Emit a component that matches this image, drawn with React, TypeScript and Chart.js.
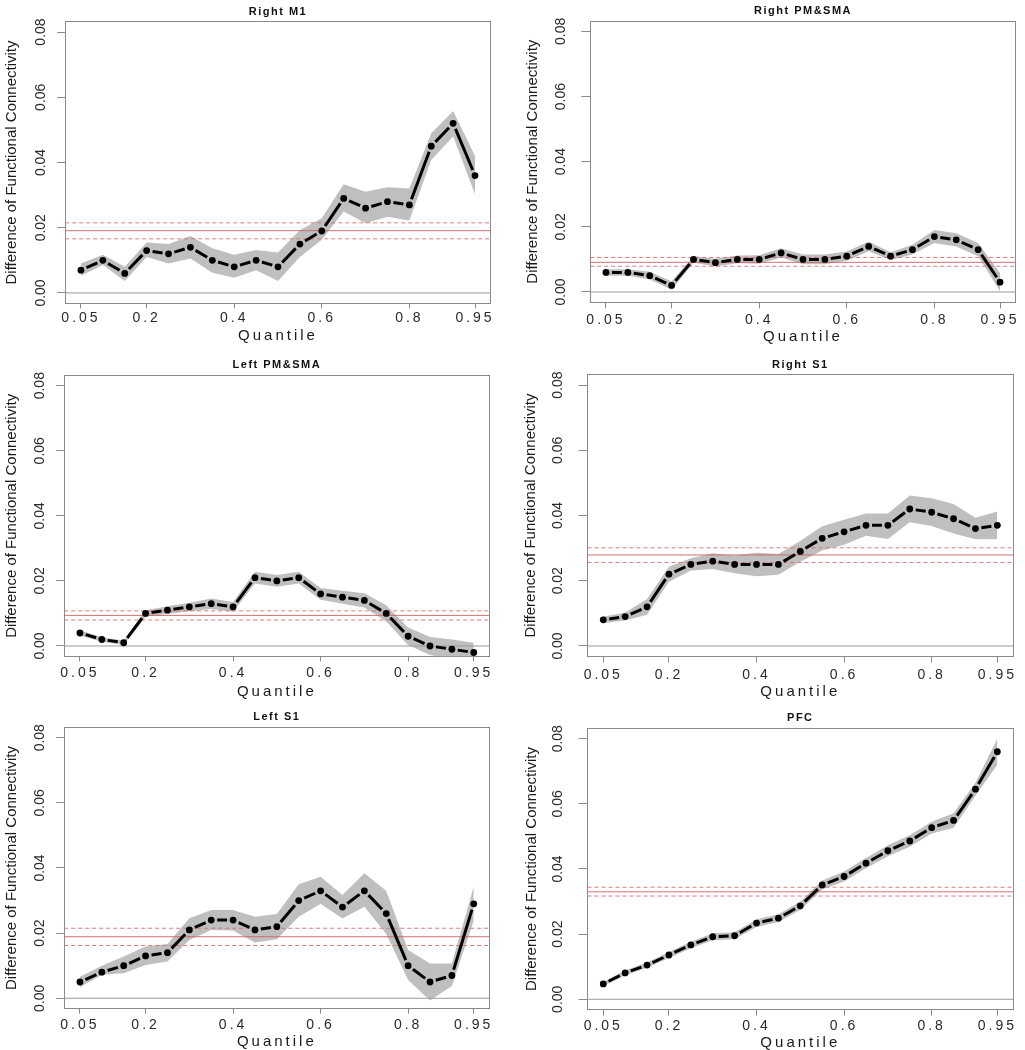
import React, { useEffect, useRef } from 'react';
import { Chart, registerables, LinearScale } from 'chart.js';

// ---------------- data ----------------
const QUANTILES = [0.05, 0.1, 0.15, 0.2, 0.25, 0.3, 0.35, 0.4, 0.45, 0.5, 0.55, 0.6, 0.65, 0.7, 0.75, 0.8, 0.85, 0.9, 0.95];
const X_TICKS = [0.05, 0.2, 0.4, 0.6, 0.8, 0.95];
const X_TICK_LABELS = ['0.05', '0.2', '0.4', '0.6', '0.8', '0.95'];
const Y_TICKS = [0, 0.02, 0.04, 0.06, 0.08];
const Y_TICK_LABELS = ['0.00', '0.02', '0.04', '0.06', '0.08'];
const Y_LIMITS = [0, 0.08];
const X_LABEL = 'Quantile';
const Y_LABEL = 'Difference of Functional Connectivity';
const TITLES = ['Right M1', 'Right PM&SMA', 'Left PM&SMA', 'Right S1', 'Left S1', 'PFC'];

// reference lines: [mean, lower bound, upper bound]
const RIGHT_M1_EST = [0.007, 0.010, 0.006, 0.013, 0.012, 0.014, 0.010, 0.008, 0.010, 0.008, 0.015, 0.019, 0.029, 0.026, 0.028, 0.027, 0.045, 0.052, 0.036];
const RIGHT_M1_UPPER = [0.009, 0.0117, 0.008, 0.0155, 0.015, 0.0175, 0.0137, 0.0117, 0.0132, 0.0124, 0.0193, 0.0229, 0.0333, 0.031, 0.0324, 0.032, 0.049, 0.0558, 0.042];
const RIGHT_M1_LOWER = [0.0053, 0.0086, 0.0037, 0.011, 0.009, 0.0106, 0.0062, 0.0047, 0.007, 0.0037, 0.011, 0.0163, 0.025, 0.0214, 0.0234, 0.0222, 0.0408, 0.048, 0.0303];
const RIGHT_M1_REF = [0.0191, 0.0166, 0.0215];

const RIGHT_PMSMA_EST = [0.006, 0.006, 0.005, 0.002, 0.010, 0.009, 0.010, 0.010, 0.012, 0.010, 0.010, 0.011, 0.014, 0.011, 0.013, 0.017, 0.016, 0.013, 0.003];
const RIGHT_PMSMA_UPPER = [0.007, 0.007, 0.0062, 0.0033, 0.011, 0.0102, 0.0112, 0.0113, 0.0134, 0.0115, 0.0115, 0.0124, 0.0155, 0.0122, 0.0145, 0.019, 0.018, 0.015, 0.0058];
const RIGHT_PMSMA_LOWER = [0.005, 0.005, 0.0038, 0.0007, 0.009, 0.0078, 0.0088, 0.0087, 0.0106, 0.0085, 0.0085, 0.0096, 0.0125, 0.0098, 0.0115, 0.015, 0.014, 0.011, 0.0002];
const RIGHT_PMSMA_REF = [0.0091, 0.0079, 0.0106];

const LEFT_PMSMA_EST = [0.004, 0.002, 0.001, 0.010, 0.011, 0.012, 0.013, 0.012, 0.021, 0.020, 0.021, 0.016, 0.015, 0.014, 0.010, 0.003, 0.000, -0.001, -0.002];
const LEFT_PMSMA_UPPER = [0.0048, 0.0027, 0.0017, 0.011, 0.0122, 0.0133, 0.0146, 0.0135, 0.0228, 0.0218, 0.0228, 0.0178, 0.017, 0.0162, 0.0125, 0.0057, 0.0028, 0.002, 0.001];
const LEFT_PMSMA_LOWER = [0.0032, 0.0013, 0.0003, 0.009, 0.0098, 0.0107, 0.0114, 0.0105, 0.0192, 0.0182, 0.0192, 0.0142, 0.013, 0.0118, 0.0075, 0.0003, -0.0028, -0.004, -0.005];
const LEFT_PMSMA_REF = [0.0094, 0.008, 0.0108];

const RIGHT_S1_EST = [0.008, 0.009, 0.012, 0.022, 0.025, 0.026, 0.025, 0.025, 0.025, 0.029, 0.033, 0.035, 0.037, 0.037, 0.042, 0.041, 0.039, 0.036, 0.037];
const RIGHT_S1_UPPER = [0.009, 0.0102, 0.0144, 0.0243, 0.0269, 0.0284, 0.0277, 0.0286, 0.0282, 0.0322, 0.0367, 0.0387, 0.0406, 0.0406, 0.0461, 0.0453, 0.0435, 0.0393, 0.0412];
const RIGHT_S1_LOWER = [0.007, 0.0078, 0.0096, 0.0197, 0.0231, 0.0236, 0.0223, 0.0214, 0.0218, 0.0258, 0.0293, 0.031, 0.0338, 0.0328, 0.0379, 0.0368, 0.0345, 0.0327, 0.0327];
const RIGHT_S1_REF = [0.0279, 0.0256, 0.0301];

const LEFT_S1_EST = [0.005, 0.008, 0.010, 0.013, 0.014, 0.021, 0.024, 0.024, 0.021, 0.022, 0.030, 0.033, 0.028, 0.033, 0.026, 0.010, 0.005, 0.007, 0.029];
const LEFT_S1_UPPER = [0.0066, 0.010, 0.0128, 0.0159, 0.0167, 0.0246, 0.0271, 0.0271, 0.025, 0.0259, 0.035, 0.0373, 0.0317, 0.0384, 0.033, 0.0148, 0.0107, 0.0107, 0.0343];
const LEFT_S1_LOWER = [0.0034, 0.0072, 0.0077, 0.0102, 0.0113, 0.0179, 0.021, 0.0208, 0.0171, 0.0181, 0.025, 0.029, 0.0245, 0.0281, 0.0197, 0.0056, -0.0007, 0.0038, 0.0238];
const LEFT_S1_REF = [0.0189, 0.0162, 0.0215];

const PFC_EST = [0.0047, 0.0081, 0.0105, 0.0136, 0.0167, 0.0192, 0.0195, 0.0234, 0.0249, 0.0287, 0.0351, 0.0377, 0.0418, 0.0456, 0.0486, 0.0527, 0.0549, 0.0645, 0.076];
const PFC_UPPER = [0.0053, 0.0088, 0.0113, 0.0145, 0.0177, 0.0203, 0.0206, 0.0246, 0.0261, 0.030, 0.0365, 0.0392, 0.0434, 0.0473, 0.0504, 0.0545, 0.0571, 0.0665, 0.080];
const PFC_LOWER = [0.0041, 0.0074, 0.0097, 0.0127, 0.0157, 0.0181, 0.0184, 0.0222, 0.0237, 0.0274, 0.0337, 0.0362, 0.0402, 0.0439, 0.0468, 0.0509, 0.0527, 0.0625, 0.072];
const PFC_REF = [0.033, 0.0317, 0.0344];

const PANEL_SERIES = [
  { title: TITLES[0], est: RIGHT_M1_EST, upper: RIGHT_M1_UPPER, lower: RIGHT_M1_LOWER, ref: RIGHT_M1_REF },
  { title: TITLES[1], est: RIGHT_PMSMA_EST, upper: RIGHT_PMSMA_UPPER, lower: RIGHT_PMSMA_LOWER, ref: RIGHT_PMSMA_REF },
  { title: TITLES[2], est: LEFT_PMSMA_EST, upper: LEFT_PMSMA_UPPER, lower: LEFT_PMSMA_LOWER, ref: LEFT_PMSMA_REF },
  { title: TITLES[3], est: RIGHT_S1_EST, upper: RIGHT_S1_UPPER, lower: RIGHT_S1_LOWER, ref: RIGHT_S1_REF },
  { title: TITLES[4], est: LEFT_S1_EST, upper: LEFT_S1_UPPER, lower: LEFT_S1_LOWER, ref: LEFT_S1_REF },
  { title: TITLES[5], est: PFC_EST, upper: PFC_UPPER, lower: PFC_LOWER, ref: PFC_REF },
];

// ---------------- layout & style ----------------
const PANEL_LAYOUT = [
  { x0: 0, y0: 0, w: 512, h: 350, left: 65.2, right: 490.8, top: 21.6, bottom: 303.4, yTickLen: 8, yTickPad: 2.4, yTitlePad: 3, xTickLen: 5, xTickPad: 1.6, xTitlePad: 6.5 },
  { x0: 512, y0: 0, w: 513, h: 350, left: 78.2, right: 503.8, top: 21.0, bottom: 302.4, yTickLen: 9, yTickPad: 6.9, yTitlePad: 12, xTickLen: 6, xTickPad: 2.9, xTitlePad: 5.8 },
  { x0: 0, y0: 350, w: 512, h: 350, left: 64.2, right: 489.5, top: 25.3, bottom: 306.4, yTickLen: 8, yTickPad: 2.4, yTitlePad: 3, xTickLen: 5, xTickPad: 3.6, xTitlePad: 0.8 },
  { x0: 512, y0: 350, w: 513, h: 350, left: 75.5, right: 501.1, top: 24.6, bottom: 306.4, yTickLen: 9, yTickPad: 6.9, yTitlePad: 10, xTickLen: 6, xTickPad: 3.9, xTitlePad: 0.8 },
  { x0: 0, y0: 700, w: 512, h: 350, left: 64.2, right: 489.5, top: 27.3, bottom: 308.7, yTickLen: 8, yTickPad: 2.4, yTitlePad: 3, xTickLen: 5, xTickPad: 2.9, xTitlePad: 0.5 },
  { x0: 512, y0: 700, w: 513, h: 350, left: 75.5, right: 501.1, top: 28.3, bottom: 309.7, yTickLen: 9, yTickPad: 6.9, yTitlePad: 11, xTickLen: 6, xTickPad: 2.2, xTitlePad: 0 },
];

const FONT = '"Liberation Sans", Arial, Helvetica, sans-serif';
const AXIS_COLOR = '#8a8a8a';
const TICK_COLOR = '#2a2a2a';
const TEXT_COLOR = '#1a1a1a';
const BAND_COLOR = '#bfbfbf';
const RED_SOLID = 'rgba(208, 96, 96, 0.9)';
const RED_DASH = 'rgba(220, 110, 110, 0.9)';
const ZERO_COLOR = '#9a9a9a';
const POINT_GAP = 6;
const TITLE_SIZE = 11;
const TITLE_LINE = 1.2;

// R-style axis extension (4% each side)
const extend = (lo: number, hi: number) => [lo - 0.04 * (hi - lo), hi + 0.04 * (hi - lo)];
const X_RANGE = extend(QUANTILES[0], QUANTILES[QUANTILES.length - 1]);
const Y_RANGE = extend(Y_LIMITS[0], Y_LIMITS[1]);

// ---------------- chart.js extensions ----------------
class SpacedLinearScale extends LinearScale {
  static id = 'spacedLinear';
  withSpacing(fn: () => void) {
    const ctx: any = this.ctx;
    const prev = ctx.letterSpacing;
    const ls = (this.options as any).letterSpacing;
    ctx.letterSpacing = ls || '0px';
    fn();
    ctx.letterSpacing = prev;
  }
  drawLabels(area: any) {
    this.withSpacing(() => super.drawLabels(area));
  }
  drawTitle() {
    this.withSpacing(() => super.drawTitle());
  }
}

const titleSpacingPlugin = {
  id: 'titleSpacing',
  beforeDraw(chart: any) {
    chart.ctx.letterSpacing = '1.5px';
  },
  afterDraw(chart: any) {
    chart.ctx.letterSpacing = '0px';
  },
};

Chart.register(...registerables, SpacedLinearScale);

// type="b" style: line interrupted around each point
const gapDash = (ctx: any) => {
  const dx = ctx.p1.x - ctx.p0.x;
  const dy = ctx.p1.y - ctx.p0.y;
  const len = Math.hypot(dx, dy);
  if (len <= 2 * POINT_GAP) return [0, len + 1];
  return [0, POINT_GAP, len - 2 * POINT_GAP, POINT_GAP];
};

function buildConfig(s: any, L: any): any {
  const [xMin, xMax] = X_RANGE;
  const [yMin, yMax] = Y_RANGE;
  const pts = (vals: number[]) => QUANTILES.map((q, i) => ({ x: q, y: vals[i] }));
  const hline = (v: number) => [{ x: xMin, y: v }, { x: xMax, y: v }];
  const titleLine = TITLE_SIZE * TITLE_LINE;

  const datasets = [
    {
      label: 'estimate', data: pts(s.est), borderColor: '#000', borderWidth: 3,
      pointRadius: 3.4, pointBackgroundColor: '#000', pointBorderWidth: 0, pointStyle: 'circle',
      segment: { borderDash: gapDash }, fill: false, tension: 0,
    },
    { label: 'mean', data: hline(s.ref[0]), borderColor: RED_SOLID, borderWidth: 1, pointRadius: 0, fill: false },
    { label: 'mean lower', data: hline(s.ref[1]), borderColor: RED_DASH, borderWidth: 1, borderDash: [4, 3], pointRadius: 0, fill: false },
    { label: 'mean upper', data: hline(s.ref[2]), borderColor: RED_DASH, borderWidth: 1, borderDash: [4, 3], pointRadius: 0, fill: false },
    { label: 'zero', data: hline(0), borderColor: ZERO_COLOR, borderWidth: 1, pointRadius: 0, fill: false },
    { label: 'band upper', data: pts(s.upper), borderWidth: 0, pointRadius: 0, backgroundColor: BAND_COLOR, fill: '+1', tension: 0 },
    { label: 'band lower', data: pts(s.lower), borderWidth: 0, pointRadius: 0, fill: false, tension: 0 },
  ];

  const hiddenAxis = (axis: string, position: string, min: number, max: number) => ({
    type: 'linear', axis, position, min, max, display: true,
    ticks: { display: false },
    grid: { display: false, drawTicks: false },
    border: { display: true, color: AXIS_COLOR, width: 1 },
    afterFit: (sc: any) => {
      if (axis === 'x') sc.height = 0; else sc.width = 0;
    },
  });

  return {
    type: 'line',
    data: { datasets },
    plugins: [titleSpacingPlugin],
    options: {
      responsive: false,
      maintainAspectRatio: false,
      animation: false,
      devicePixelRatio: 1,
      events: [],
      layout: { padding: { left: 0, top: 0, bottom: 0, right: L.w - L.right } },
      plugins: {
        legend: { display: false },
        tooltip: { enabled: false },
        title: {
          display: true, text: s.title, fullSize: false, color: '#111',
          font: { family: FONT, size: TITLE_SIZE, weight: 'bold', lineHeight: TITLE_LINE },
          padding: { top: L.top - 10 - titleLine / 2, bottom: 10 - titleLine / 2 },
        },
      },
      scales: {
        x: {
          type: 'spacedLinear', axis: 'x', position: 'bottom', min: xMin, max: xMax, bounds: 'data',
          letterSpacing: '3px',
          afterBuildTicks: (sc: any) => { sc.ticks = X_TICKS.map((v) => ({ value: v })); },
          afterFit: (sc: any) => { sc.height = L.h - L.bottom; },
          ticks: {
            autoSkip: false, minRotation: 0, maxRotation: 0, padding: L.xTickPad, color: TICK_COLOR,
            font: { family: FONT, size: 14 },
            callback: (_v: any, i: number) => X_TICK_LABELS[i],
          },
          grid: { display: true, drawOnChartArea: false, drawTicks: true, tickLength: L.xTickLen, color: AXIS_COLOR, lineWidth: 1 },
          border: { display: true, color: AXIS_COLOR, width: 1 },
          title: {
            display: true, text: X_LABEL, color: TEXT_COLOR,
            font: { family: FONT, size: 15, lineHeight: 1 },
            padding: { top: 0, bottom: L.xTitlePad },
          },
        },
        y: {
          type: 'spacedLinear', axis: 'y', position: 'left', min: yMin, max: yMax, bounds: 'data',
          letterSpacing: '0px',
          afterBuildTicks: (sc: any) => { sc.ticks = Y_TICKS.map((v) => ({ value: v })); },
          afterFit: (sc: any) => { sc.width = L.left; },
          ticks: {
            autoSkip: false, minRotation: 90, maxRotation: 90, crossAlign: 'center', padding: L.yTickPad,
            color: TICK_COLOR, font: { family: FONT, size: 14 },
            callback: (_v: any, i: number) => Y_TICK_LABELS[i],
          },
          grid: { display: true, drawOnChartArea: false, drawTicks: true, tickLength: L.yTickLen, color: AXIS_COLOR, lineWidth: 1 },
          border: { display: true, color: AXIS_COLOR, width: 1 },
          title: {
            display: true, text: Y_LABEL, color: TEXT_COLOR,
            font: { family: FONT, size: 15, lineHeight: 1.2 },
            padding: { top: L.yTitlePad, bottom: 0 },
          },
        },
        x2: hiddenAxis('x', 'top', xMin, xMax),
        y2: hiddenAxis('y', 'right', yMin, yMax),
      },
    },
  };
}

function Panel({ index }: { index: number }) {
  const ref = useRef<HTMLCanvasElement | null>(null);
  const L = PANEL_LAYOUT[index];
  useEffect(() => {
    if (!ref.current) return;
    const chart = new Chart(ref.current, buildConfig(PANEL_SERIES[index], L));
    return () => chart.destroy();
  }, [index]);
  return (
    <canvas
      ref={ref}
      width={L.w}
      height={L.h}
      style={{ position: 'absolute', left: L.x0, top: L.y0, width: L.w, height: L.h, display: 'block' }}
    />
  );
}

export default function App() {
  return (
    <div style={{ position: 'absolute', left: 0, top: 0, width: 1025, height: 1050, background: '#fff', overflow: 'hidden' }}>
      {PANEL_SERIES.map((_, i) => (
        <Panel key={i} index={i} />
      ))}
    </div>
  );
}
